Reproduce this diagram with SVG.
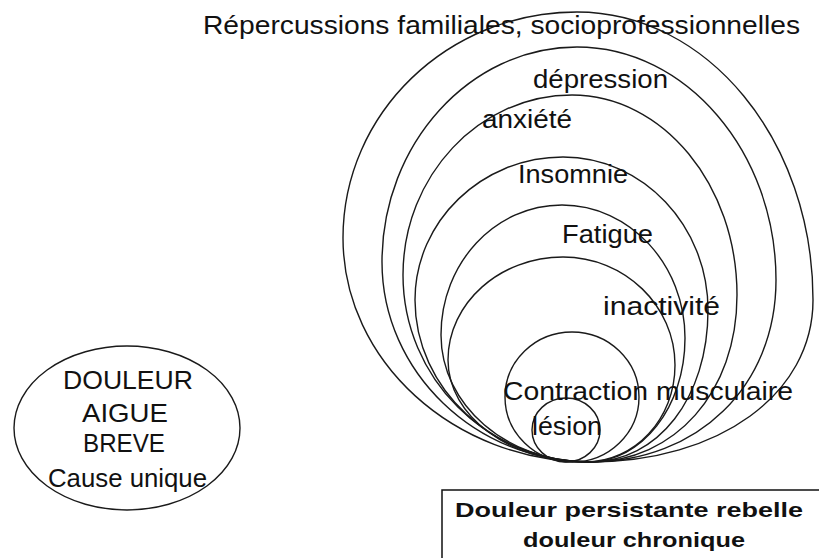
<svg xmlns="http://www.w3.org/2000/svg" width="819" height="558" viewBox="0 0 819 558">
<style>
.c{fill:none;stroke:#1a1a1a;stroke-width:1.4}
.t{font-family:"Liberation Sans",Arial,sans-serif;font-size:25px;fill:#111}
.e{font-family:"Liberation Sans",Arial,sans-serif;font-size:26px;fill:#111}
.b{font-family:"Liberation Sans",Arial,sans-serif;font-size:21px;font-weight:bold;fill:#111}
</style>
<rect width="819" height="558" fill="#fff"/>
<g id="circles">
<g id="n-repercussions"><path class="c" d="M590,462 C454,462 343,361 343,238 C343,113 448,12 577,12 C707,12 813,140 813,300 C813,394 719,462 590,462Z"/></g>
<g id="n-depression"><path class="c" d="M590,462 C476,462 382,372 382,262 C382,144 470,47 577,47 C686,47 776,152 776,280 C776,386 698,462 590,462Z"/></g>
<g id="n-anxiete"><path class="c" d="M590,462 C487,462 403,378 403,275 C403,176 479,95 572,95 C663,95 737,185 737,295 C737,392 675,462 590,462Z"/></g>
<g id="n-insomnie"><path class="c" d="M590,462 C494,462 415,389 415,300 C415,221 482,157 563,157 C643,157 708,226 708,310 C708,398 658,462 590,462Z"/></g>
<g id="n-fatigue"><path class="c" d="M588,462 C507,462 441,405 441,335 C441,263 495,205 562,205 C630,205 685,265 685,338 C685,407 642,462 588,462Z"/></g>
<g id="n-inactivite"><path class="c" d="M585,462 C510,462 448,416 448,360 C448,303 500,257 563,257 C625,257 675,306 675,365 C675,419 635,462 585,462Z"/></g>
<g id="n-contraction"><ellipse class="c" cx="572" cy="397" rx="67" ry="65"/></g>
<g id="n-lesion"><ellipse class="c" cx="566" cy="430" rx="34" ry="32"/></g>
</g>
<g id="labels">
<text class="t" x="203" y="34" textLength="597" lengthAdjust="spacingAndGlyphs">Répercussions familiales, socioprofessionnelles</text>
<text class="t" x="533" y="88" textLength="135" lengthAdjust="spacingAndGlyphs">dépression</text>
<text class="t" x="482" y="128" textLength="90" lengthAdjust="spacingAndGlyphs">anxiété</text>
<text class="t" x="518" y="183" textLength="110" lengthAdjust="spacingAndGlyphs">Insomnie</text>
<text class="t" x="562" y="243" textLength="91" lengthAdjust="spacingAndGlyphs">Fatigue</text>
<text class="t" x="603" y="315" textLength="117" lengthAdjust="spacingAndGlyphs">inactivité</text>
<text class="t" x="503" y="400" textLength="290" lengthAdjust="spacingAndGlyphs">Contraction musculaire</text>
<text class="t" x="532" y="435" textLength="70" lengthAdjust="spacingAndGlyphs">lésion</text>
</g>
<g id="n-aigue">
<ellipse class="c" cx="127" cy="428" rx="113" ry="82"/>
<text class="e" x="63" y="389" textLength="130" lengthAdjust="spacingAndGlyphs">DOULEUR</text>
<text class="e" x="82" y="422" textLength="86" lengthAdjust="spacingAndGlyphs">AIGUE</text>
<text class="e" x="83" y="452" textLength="82" lengthAdjust="spacingAndGlyphs">BREVE</text>
<text class="e" x="48" y="487" textLength="159" lengthAdjust="spacingAndGlyphs">Cause unique</text>
</g>
<g id="n-chronique">
<rect x="442" y="490" width="400" height="90" fill="none" stroke="#111" stroke-width="1.5"/>
<text class="b" x="455" y="517" textLength="348" lengthAdjust="spacingAndGlyphs">Douleur persistante rebelle</text>
<text class="b" x="523" y="547" textLength="222" lengthAdjust="spacingAndGlyphs">douleur chronique</text>
</g>
</svg>
